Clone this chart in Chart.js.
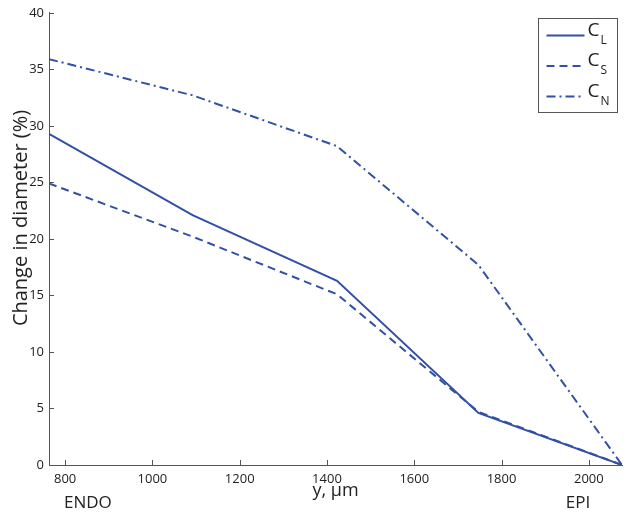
<!DOCTYPE html>
<html>
<head>
<meta charset="utf-8">
<script src="https://cdn.jsdelivr.net/npm/chart.js@4"></script>
<style>
  html, body { margin: 0; padding: 0; background: #fff; }
  #wrap { width: 632px; height: 517px; }
</style>
</head>
<body>
<div id="wrap"><canvas id="grafico" width="632" height="517"></canvas></div>
<script>
// posicion transmural (um) y cambio de diametro (%)
const posiciones = [763, 1092, 1423, 1747, 2076];
const cambioCL = [29.3, 22.1, 16.3, 4.6, 0];
const cambioCS = [24.9, 20.2, 15.1, 4.7, 0];
const cambioCN = [35.9, 32.7, 28.2, 17.7, 0];
const ticksX = [800, 1000, 1200, 1400, 1600, 1800, 2000];
const ticksY = [0, 5, 10, 15, 20, 25, 30, 35, 40];
const etiquetasSerie = [['C', 'L'], ['C', 'S'], ['C', 'N']];

const azul = '#3150a6';
const fuente = "'Open Sans', 'Noto Sans', sans-serif";

function puntos(valores) {
    return posiciones.map((x, i) => ({ x: x, y: valores[i] }));
}

// ticks hacia adentro, leyenda con subindices, titulo Y y textos ENDO / EPI
const extras = {
    id: 'extras',
    afterDraw(chart) {
        const ctx = chart.ctx;
        const sx = chart.scales.x, sy = chart.scales.y;
        const area = chart.chartArea;
        ctx.save();
        ctx.strokeStyle = '#555';
        ctx.lineWidth = 1;
        ctx.beginPath();
        ticksX.forEach(v => {
            const px = Math.round(sx.getPixelForValue(v)) + 0.5;
            ctx.moveTo(px, area.bottom);
            ctx.lineTo(px, area.bottom - 5);
        });
        ticksY.forEach(v => {
            const py = Math.round(sy.getPixelForValue(v)) + 0.5;
            ctx.moveTo(area.left, py);
            ctx.lineTo(area.left + 5, py);
        });
        ctx.stroke();

        // leyenda
        const bx = 538.5, by = 18.5, bw = 79, bh = 94;
        ctx.fillStyle = '#fff';
        ctx.fillRect(bx, by, bw, bh);
        ctx.strokeStyle = '#555';
        ctx.strokeRect(bx, by, bw, bh);
        chart.data.datasets.forEach((ds, i) => {
            const yy = by + 17 + i * 30.5;
            ctx.strokeStyle = ds.borderColor;
            ctx.lineWidth = 2;
            ctx.setLineDash(ds.borderDash || []);
            ctx.beginPath();
            ctx.moveTo(bx + 8, yy);
            ctx.lineTo(bx + 46, yy);
            ctx.stroke();
            ctx.setLineDash([]);
            ctx.fillStyle = '#222';
            ctx.textBaseline = 'middle';
            ctx.textAlign = 'left';
            ctx.font = '19px ' + fuente;
            ctx.fillText(etiquetasSerie[i][0], bx + 49, yy - 5);
            ctx.font = '12px ' + fuente;
            ctx.fillText(etiquetasSerie[i][1], bx + 62, yy + 5);
        });

        ctx.fillStyle = '#222';
        ctx.font = '17px ' + fuente;
        ctx.textBaseline = 'middle';
        ctx.textAlign = 'left';
        ctx.fillText('ENDO', 64, 503);
        ctx.textAlign = 'center';
        ctx.fillText('EPI', 578, 503);

        // titulo del eje Y
        ctx.translate(21, 218);
        ctx.rotate(-Math.PI / 2);
        ctx.font = '20px ' + fuente;
        ctx.fillText('Change in diameter (%)', 0, 0);
        ctx.restore();
    }
};

new Chart(document.getElementById('grafico').getContext('2d'), {
    type: 'line',
    data: {
        datasets: [
            { label: 'CL', data: puntos(cambioCL), borderColor: azul, borderWidth: 2, pointRadius: 0, fill: false },
            { label: 'CS', data: puntos(cambioCS), borderColor: azul, borderWidth: 2, borderDash: [8, 5], pointRadius: 0, fill: false },
            { label: 'CN', data: puntos(cambioCN), borderColor: azul, borderWidth: 2, borderDash: [9, 4, 2, 4], pointRadius: 0, fill: false }
        ]
    },
    options: {
        responsive: false,
        animation: false,
        layout: { padding: { top: 12, right: 10, left: 0, bottom: 0 } },
        plugins: { legend: { display: false }, tooltip: { enabled: false } },
        scales: {
            x: {
                type: 'linear',
                min: posiciones[0],
                max: posiciones[posiciones.length - 1],
                afterBuildTicks: s => { s.ticks = ticksX.map(v => ({ value: v })); },
                afterFit: s => { s.height = 52; },
                grid: { display: false, drawTicks: false },
                border: { display: true, color: '#555', width: 1 },
                ticks: { padding: 6, color: '#222', font: { family: fuente, size: 13 }, maxRotation: 0, callback: v => String(v) },
                title: { display: true, text: 'y, μm', color: '#222', font: { family: fuente, size: 18 }, padding: { top: 0, bottom: 15 } }
            },
            y: {
                min: 0,
                max: 40,
                afterBuildTicks: s => { s.ticks = ticksY.map(v => ({ value: v })); },
                afterFit: s => { s.width = 49; },
                grid: { display: false, drawTicks: false },
                border: { display: true, color: '#555', width: 1 },
                ticks: { padding: 5, color: '#222', font: { family: fuente, size: 13 }, callback: v => String(v) }
            }
        }
    },
    plugins: [extras]
});
</script>
</body>
</html>
